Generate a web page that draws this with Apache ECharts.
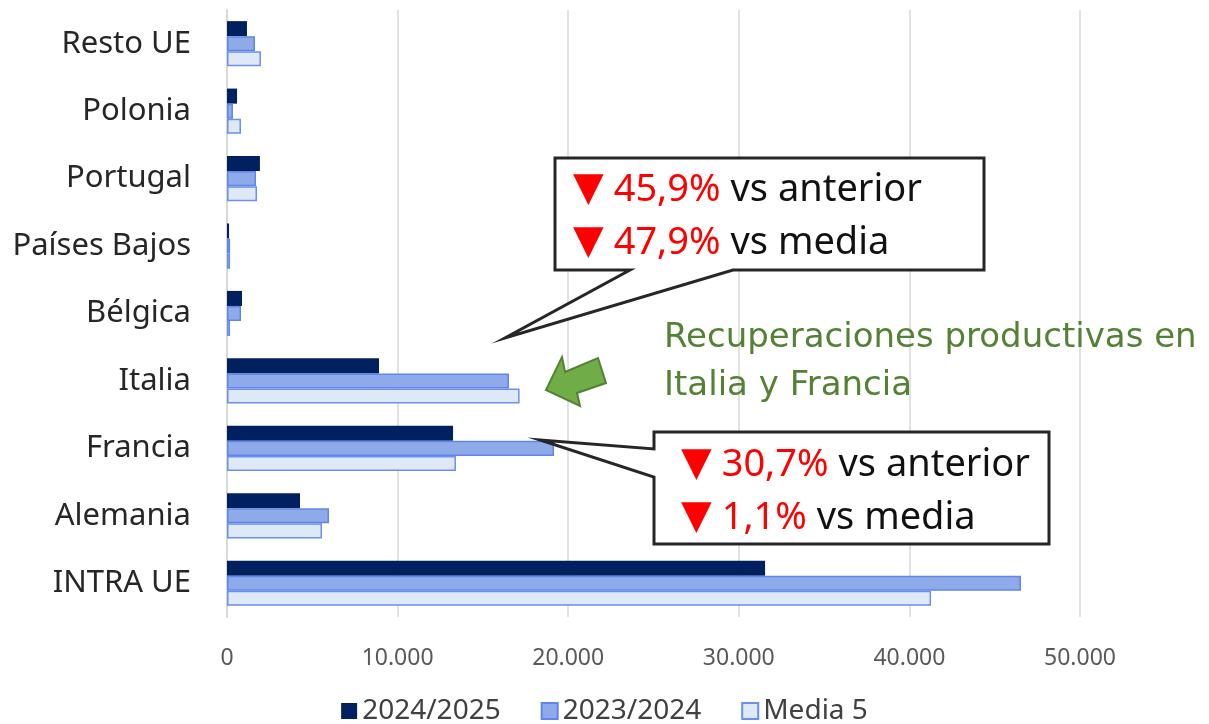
<!DOCTYPE html>
<html lang="es">
<head>
  <meta charset="UTF-8">
  <title>Exportaciones intra UE</title>
  <script src="https://cdn.jsdelivr.net/npm/echarts@6/dist/echarts.min.js"></script>
  <style>
    html, body { margin: 0; padding: 0; background: #fff; }
    #main { width: 1209px; height: 724px; }
  </style>
</head>
<body>
<div id="main"></div>
<script>
  const chart = echarts.init(document.getElementById('main'));

  // categorías de arriba a abajo (eje invertido)
  const paises = ['Resto UE', 'Polonia', 'Portugal', 'Países Bajos', 'Bélgica', 'Italia', 'Francia', 'Alemania', 'INTRA UE'];
  const campana2425 = [1170, 590, 1930, 120, 880, 8910, 13250, 4280, 31540];
  const campana2324 = [1640, 350, 1700, 180, 820, 16530, 19170, 5980, 46540];
  const media5 = [1990, 820, 1760, 180, 180, 17150, 13420, 5570, 41270];
  const seriesNames = ['2024/2025', '2023/2024', 'Media 5'];

  const FONT = '"Noto Sans", sans-serif';

  function fmt(v) {
    return String(v).replace(/\B(?=(\d{3})+(?!\d))/g, '.');
  }

  const boxRich = {
    t: { fill: '#ff0000', fontSize: 40, fontFamily: '"DejaVu Sans", sans-serif', lineHeight: 53 },
    r: { fill: '#ff0000', fontSize: 38, fontFamily: FONT, lineHeight: 53 },
    k: { fill: '#111111', fontSize: 38, fontFamily: FONT, lineHeight: 53 }
  };

  chart.setOption({
    animation: false,
    textStyle: { fontFamily: FONT },
    grid: { left: 227, right: 129, top: 10, bottom: 107 },
    legend: {
      data: seriesNames,
      top: 692,
      left: 'center',
      icon: 'rect',
      itemWidth: 16,
      itemHeight: 16,
      itemGap: 40,
      textStyle: { fontSize: 28, color: '#404040', fontFamily: FONT }
    },
    xAxis: {
      type: 'value',
      min: 0,
      max: 50000,
      interval: 10000,
      axisLine: { show: false },
      axisTick: { show: false },
      splitLine: { lineStyle: { color: '#d9d9d9', width: 1.5 } },
      axisLabel: { fontSize: 23, color: '#595959', margin: 30, formatter: fmt }
    },
    yAxis: {
      type: 'category',
      inverse: true,
      data: paises,
      axisLine: { lineStyle: { color: '#d9d9d9', width: 2 } },
      axisTick: { show: false },
      axisLabel: { fontSize: 31, color: '#262626', margin: 36 }
    },
    series: [
      {
        name: seriesNames[0], type: 'bar', data: campana2425,
        barGap: '0%', barCategoryGap: '33%',
        itemStyle: { color: '#002060' }
      },
      {
        name: seriesNames[1], type: 'bar', data: campana2324,
        barGap: '0%', barCategoryGap: '33%',
        itemStyle: { color: '#8eaae8', borderColor: '#5f86ec', borderWidth: 1.5 }
      },
      {
        name: seriesNames[2], type: 'bar', data: media5,
        barGap: '0%', barCategoryGap: '33%',
        itemStyle: { color: '#dee9f7', borderColor: '#6a8ff0', borderWidth: 1.5 }
      }
    ],
    graphic: [
      // bocadillo Italia
      {
        type: 'polygon',
        shape: { points: [[555, 158], [984, 158], [984, 270], [733, 270], [505, 338], [630, 270], [555, 270]] },
        style: { fill: '#ffffff', stroke: '#262626', lineWidth: 3 },
        z: 100
      },
      {
        type: 'text', left: 573, top: 170, z: 101,
        style: {
          text: '{t|▼}{r| 45,9%}{k| vs anterior}\n{t|▼}{r| 47,9%}{k| vs media}',
          rich: boxRich
        }
      },
      // bocadillo Francia
      {
        type: 'polygon',
        shape: { points: [[654, 432], [1049, 432], [1049, 544], [654, 544], [654, 477], [540, 440], [654, 449]] },
        style: { fill: '#ffffff', stroke: '#262626', lineWidth: 3 },
        z: 100
      },
      {
        type: 'text', left: 681, top: 445, z: 101,
        style: {
          text: '{t|▼}{r| 30,7%}{k| vs anterior}\n{t|▼}{r| 1,1%}{k| vs media}',
          rich: boxRich
        }
      },
      // flecha verde
      {
        type: 'polygon',
        shape: { points: [[546, 390], [562, 357], [565, 372], [598, 358], [606, 383], [577, 393], [580, 406]] },
        style: { fill: '#70ad47', stroke: '#548235', lineWidth: 2 },
        z: 100
      },
      {
        type: 'text', left: 664, top: 314, z: 101,
        style: {
          text: 'Recuperaciones productivas en\nItalia y Francia',
          fill: '#548235',
          fontSize: 34,
          lineHeight: 48,
          fontFamily: '"DejaVu Sans", sans-serif'
        }
      }
    ]
  });
</script>
</body>
</html>
